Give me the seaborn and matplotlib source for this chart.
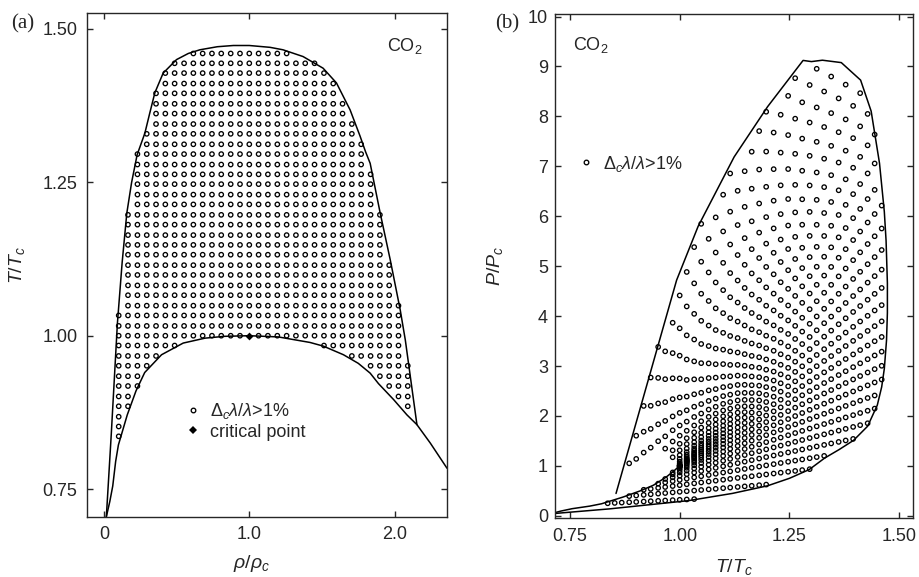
import numpy as np
import pandas as pd
import matplotlib
matplotlib.use("Agg")
import matplotlib.pyplot as plt
from matplotlib.path import Path
from matplotlib.lines import Line2D
import seaborn as sns

# ---------------------------------------------------------------------------
# Computation grid: density columns (rho/rho_c) and isotherms (T/T_c)
# ---------------------------------------------------------------------------
rho_nodes = [0.037, 0.101, 0.165, 0.230, 0.294, 0.358, 0.422, 0.486, 0.551,
             0.615, 0.679, 0.743, 0.807, 0.872, 0.936, 1.000, 1.064, 1.128,
             1.193, 1.257, 1.321, 1.385, 1.449, 1.514, 1.578, 1.642, 1.706,
             1.770, 1.835, 1.899, 1.963, 2.027, 2.091, 2.156]
t_nodes = [0.803, 0.819, 0.836, 0.852, 0.868, 0.885, 0.901, 0.918, 0.934,
           0.951, 0.967, 0.984, 1.000, 1.016, 1.033, 1.049, 1.066, 1.082,
           1.099, 1.115, 1.132, 1.148, 1.164, 1.181, 1.197, 1.214, 1.230,
           1.247, 1.263, 1.279, 1.296, 1.312, 1.329, 1.345, 1.362, 1.378,
           1.395, 1.411, 1.428, 1.444, 1.460]

# Outer limit of the region where the critical enhancement exceeds 1 %
outer_rho = [0.016, 0.050, 0.092, 0.125, 0.157, 0.190, 0.228, 0.281, 0.315,
             0.350, 0.407, 0.499, 0.580, 0.660, 0.780, 0.890, 1.000, 1.143,
             1.232, 1.370, 1.508, 1.600, 1.694, 1.763, 1.800, 1.832, 1.901,
             1.970, 2.039, 2.074, 2.154]
outer_t = [0.705, 0.840, 1.020, 1.120, 1.200, 1.250, 1.295, 1.330, 1.363,
           1.396, 1.428, 1.450, 1.460, 1.466, 1.471, 1.473, 1.473, 1.470,
           1.466, 1.455, 1.436, 1.412, 1.368, 1.325, 1.300, 1.281, 1.200,
           1.124, 1.042, 0.993, 0.855]

# Vapour-liquid coexistence curve
coex_rho = [0.016, 0.040, 0.060, 0.080, 0.099, 0.160, 0.220, 0.280, 0.396,
            0.545, 0.695, 0.830, 1.000, 1.200, 1.418, 1.510, 1.648, 1.750,
            1.832, 1.889, 1.993, 2.085, 2.154, 2.246, 2.361]
coex_t = [0.705, 0.730, 0.755, 0.795, 0.822, 0.871, 0.910, 0.940, 0.969,
          0.988, 0.996, 0.999, 1.000, 0.998, 0.989, 0.983, 0.969, 0.955,
          0.939, 0.922, 0.896, 0.871, 0.855, 0.825, 0.784]

crit_rho = [1.0]
crit_t = [1.0]

# Peng-Robinson equation of state for CO2 in reduced units (R*Tc/Pc = 1)
Z_C = 0.274           # critical compressibility factor
OMEGA = 0.225         # acentric factor
PR_A = 0.45724
PR_B = 0.07780
SHIFT_C = -0.005      # volume translation at T >= Tc
SHIFT_SLOPE = 0.029   # extra translation per unit (1 - T/Tc) below Tc


def reduced_pressure(rho, t):
    rho = np.asarray(rho, float)
    t = np.asarray(t, float)
    kappa = 0.37464 + 1.54226 * OMEGA - 0.26992 * OMEGA ** 2
    alpha = (1.0 + kappa * (1.0 - np.sqrt(t))) ** 2
    v = Z_C / rho + SHIFT_C + SHIFT_SLOPE * np.clip(1.0 - t, 0.0, None)
    return t / (v - PR_B) - PR_A * alpha / (v * v + 2 * PR_B * v - PR_B ** 2)


# ---------------------------------------------------------------------------
# Grid nodes lying between the outer limit and the coexistence curve
# ---------------------------------------------------------------------------
R_STEP, T_STEP = 0.0642, 0.01644
inner = [i for i, r in enumerate(coex_rho) if r <= outer_rho[-1]]
ring_r = np.r_[outer_rho, np.array(coex_rho)[inner][::-1]] / R_STEP
ring_t = np.r_[outer_t, np.array(coex_t)[inner][::-1]] / T_STEP
ring = np.column_stack([ring_r, ring_t])
ring = np.vstack([ring, ring[:1]])

gr, gt = np.meshgrid(rho_nodes, t_nodes)
cand = np.column_stack([gr.ravel() / R_STEP, gt.ravel() / T_STEP])
inside = Path(ring).contains_points(cand)
a, b = ring[:-1], ring[1:]
ab = b - a
ap = cand[:, None, :] - a[None, :, :]
u = np.clip((ap * ab).sum(-1) / (ab * ab).sum(-1), 0, 1)
dist = np.linalg.norm(ap - u[..., None] * ab, axis=-1).min(1)
keep = inside | (dist < 0.2)

pts = pd.DataFrame({"rho": gr.ravel()[keep], "t": gt.ravel()[keep]})
pts["p"] = reduced_pressure(pts["rho"], pts["t"])

outer_df = pd.DataFrame({"rho": outer_rho, "t": outer_t})
outer_df["p"] = reduced_pressure(outer_df["rho"], outer_df["t"])
coex_df = pd.DataFrame({"rho": coex_rho, "t": coex_t})
vap_df = coex_df[coex_df["rho"] <= 1.0].reset_index(drop=True)
vap_df["p"] = reduced_pressure(vap_df["rho"], vap_df["t"])

# ---------------------------------------------------------------------------
# Figure
# ---------------------------------------------------------------------------
sns.set_style("ticks")
plt.rcParams["font.family"] = ["Liberation Sans", "DejaVu Sans"]
plt.rcParams["mathtext.fontset"] = "custom"
plt.rcParams["mathtext.rm"] = "Liberation Sans"
plt.rcParams["mathtext.it"] = "Liberation Sans:italic"
plt.rcParams["axes.linewidth"] = 1.0

fig = plt.figure(figsize=(9.19, 5.77), dpi=100)
ax1 = fig.add_axes([0.0947, 0.1045, 0.3917, 0.873])
ax2 = fig.add_axes([0.6039, 0.1017, 0.3899, 0.874])

LABEL = r"$\Delta_c\lambda/\lambda$>1%"
dot_kw = dict(marker="o", s=10, color="white", edgecolor="black",
              linewidth=0.95, zorder=3)
line_kw = dict(sort=False, estimator=None, color="black", linewidth=1.1)

# (a) density - temperature plane
sns.lineplot(data=outer_df, x="rho", y="t", ax=ax1, **line_kw)
sns.lineplot(data=coex_df, x="rho", y="t", ax=ax1, **line_kw)
sns.scatterplot(data=pts, x="rho", y="t", ax=ax1, legend=False, **dot_kw)
ax1.collections[-1].set_facecolor("none")
sns.scatterplot(x=crit_rho, y=crit_t, ax=ax1, marker="D", s=16,
                color="black", linewidth=0, zorder=4, legend=False)

ax1.set_xlim(-0.117, 2.361)
ax1.set_ylim(0.705, 1.526)
ax1.set_xticks([0, 1, 2], ["0", "1.0", "2.0"])
ax1.set_yticks([0.75, 1.0, 1.25, 1.5], ["0.75", "1.00", "1.25", "1.50"])
ax1.set_xlabel(r"$\rho/\rho_c$", fontsize=14)
ax1.set_ylabel(r"$T/T_c$", fontsize=14)
ax1.xaxis.set_label_coords(0.457, -0.072)
ax1.yaxis.set_label_coords(-0.167, 0.5)
ax1.text(0.832, 0.9246, r"CO$_2$", transform=ax1.transAxes, fontsize=13,
         va="baseline")
h_open = Line2D([], [], marker="o", ls="", markersize=3.3, mfc="none",
                mec="black", mew=0.95)
h_crit = Line2D([], [], marker="D", ls="", markersize=3.6, mfc="black",
                mec="black", mew=0)
ax1.legend([h_open, h_crit], [LABEL, "critical point"], loc="upper left",
           bbox_to_anchor=(0.269, 0.23), frameon=False, fontsize=13,
           handlelength=1.0, handletextpad=0.45, labelspacing=0.15,
           borderpad=0, borderaxespad=0)

# (b) temperature - pressure plane
sns.lineplot(data=outer_df, x="t", y="p", ax=ax2, **line_kw)
sns.lineplot(data=vap_df, x="t", y="p", ax=ax2, **line_kw)
sns.scatterplot(data=pts, x="t", y="p", ax=ax2, legend=False, **dot_kw)
ax2.collections[-1].set_facecolor("none")

ax2.set_xlim(0.716, 1.532)
ax2.set_ylim(-0.05, 10.05)
ax2.set_xticks([0.75, 1.0, 1.25, 1.5], ["0.75", "1.00", "1.25", "1.50"])
ax2.set_yticks(range(0, 11), [str(i) for i in range(0, 11)])
ax2.set_xlabel(r"$T/T_c$", fontsize=14)
ax2.set_ylabel(r"$P/P_c$", fontsize=14)
ax2.xaxis.set_label_coords(0.5, -0.076)
ax2.yaxis.set_label_coords(-0.14, 0.5)
ax2.text(0.049, 0.9286, r"CO$_2$", transform=ax2.transAxes, fontsize=13,
         va="baseline")
ax2.legend([h_open], [LABEL], loc="upper left", bbox_to_anchor=(0.061, 0.723),
           frameon=False, fontsize=13, handlelength=1.0, handletextpad=0.45,
           borderpad=0, borderaxespad=0)

for ax in (ax1, ax2):
    ax.tick_params(direction="in", top=True, right=True, length=4, width=1,
                   labelsize=13, pad=7)
    for sp in ax.spines.values():
        sp.set_visible(True)
        sp.set_linewidth(1.0)
ax2.tick_params(axis="y", pad=5)

fig.text(11 / 919, 1 - 28 / 577, "(a)", family="Liberation Serif",
         fontsize=15, va="baseline")
fig.text(495 / 919, 1 - 28 / 577, "(b)", family="Liberation Serif",
         fontsize=15, va="baseline")

fig.savefig("out.png", dpi=100, facecolor="white")
